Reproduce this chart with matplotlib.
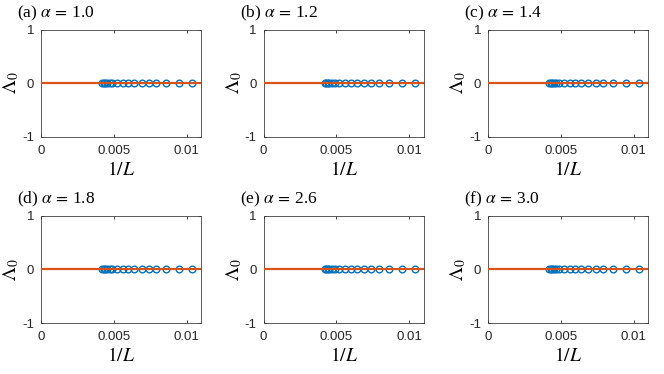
import numpy as np
import matplotlib
matplotlib.use("Agg")
import matplotlib.pyplot as plt

plt.rcParams['mathtext.fontset'] = 'stix'
plt.rcParams['font.family'] = ['Liberation Sans', 'DejaVu Sans']

# data
panel_tags = ['(a)', '(b)', '(c)', '(d)', '(e)', '(f)']
alphas = ['1.0', '1.2', '1.4', '1.8', '2.6', '3.0']
inv_L = [0.0104, 0.0095, 0.0086, 0.0079, 0.0074, 0.0069, 0.0064, 0.0060,
         0.0056, 0.0052, 0.0049, 0.0047, 0.0045, 0.0044, 0.0043, 0.0042]
lambda0 = [0.0] * len(inv_L)
fit_x = [0.0, 0.011]
fit_y = [0.0, 0.0]

xticks = [0, 0.005, 0.01]
xtick_labels = ['0', '0.005', '0.01']
yticks = [-1, 0, 1]
ytick_labels = ['-1', '0', '1']

blue = '#0072BD'
orange = '#D95319'

fig = plt.figure(figsize=(6.64, 3.74), dpi=100)
lefts = [0.062, 0.397, 0.735]
bottoms = [0.634, 0.136]
w, h = 0.241, 0.287

for i, (tag, a) in enumerate(zip(panel_tags, alphas)):
    ax = fig.add_axes([lefts[i % 3], bottoms[i // 3], w, h])
    ax.plot(inv_L, lambda0, 'o', mfc='none', mec=blue, ms=4.8, mew=1.0, zorder=2)
    ax.plot(fit_x, fit_y, '-', color=orange, lw=1.6, zorder=3)
    ax.set_xlim(0, 0.011)
    ax.set_ylim(-1, 1)
    ax.set_xticks(xticks)
    ax.set_xticklabels(xtick_labels)
    ax.set_yticks(yticks)
    ax.set_yticklabels(ytick_labels)
    ax.tick_params(direction='in', length=2.5, width=0.6, labelsize=9.5,
                   top=True, right=True, colors='#262626')
    ax.tick_params(axis='x', pad=6)
    ax.tick_params(axis='y', pad=5)
    for s in ax.spines.values():
        s.set_linewidth(0.6)
        s.set_color('#404040')
    ax.set_xlabel('$1/L$', fontsize=14, labelpad=2.5)
    ax.set_ylabel(r'$\Lambda_0$', fontsize=14)
    ax.yaxis.set_label_coords(-0.125, 0.5)
    ax.text(-0.15, 1.06, tag + r' $\alpha\,=\,$' + a, transform=ax.transAxes,
            fontsize=12.5, family='Liberation Serif', ha='left', va='bottom')

fig.savefig('out.png', dpi=100)
